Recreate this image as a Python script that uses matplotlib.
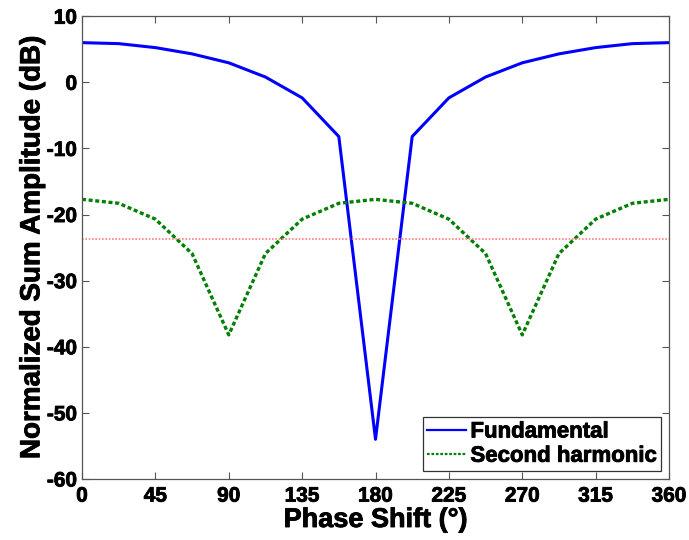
import numpy as np
import matplotlib
matplotlib.use("Agg")
import matplotlib.pyplot as plt
import matplotlib.patheffects as pe

phase = [0, 22.5, 45, 67.5, 90, 112.5, 135, 157.5, 180,
         202.5, 225, 247.5, 270, 292.5, 315, 337.5, 360]
fundamental = [6.0, 5.85, 5.25, 4.3, 2.95, 0.8, -2.35, -8.2, -54.0,
               -8.2, -2.35, 0.8, 2.95, 4.3, 5.25, 5.85, 6.0]
second = [-17.7, -18.3, -20.7, -25.9, -38.2, -25.9, -20.7, -18.3, -17.7,
          -18.3, -20.7, -25.9, -38.2, -25.9, -20.7, -18.3, -17.7]
threshold = -23.7
xticks = [0, 45, 90, 135, 180, 225, 270, 315, 360]
yticks = [-60, -50, -40, -30, -20, -10, 0, 10]

plt.rcParams['font.family'] = ['Liberation Sans', 'DejaVu Sans']
plt.rcParams['font.weight'] = 'bold'
plt.rcParams['axes.unicode_minus'] = False

heavy = [pe.withStroke(linewidth=0.6, foreground='black')]

fig = plt.figure(figsize=(6.89, 5.40), dpi=100)
ax = fig.add_axes([0.119, 0.113, 0.852, 0.857])

ax.plot(phase, fundamental, color='#0000ff', lw=2.2, label='Fundamental')
ax.plot(phase, second, color='#007f00', lw=2.4, ls=(0, (1.2, 0.8)), label='Second harmonic')
ax.axhline(threshold, color='#ff8080', lw=1.2, ls=(0, (1, 1)))

ax.set_xlim(0, 360)
ax.set_ylim(-60, 10)
ax.set_xticks(xticks)
ax.set_xticklabels([str(v) for v in xticks], fontsize=15, fontweight='bold', path_effects=heavy)
ax.set_yticks(yticks)
ax.set_yticklabels([str(v) for v in yticks], fontsize=15, fontweight='bold', path_effects=heavy)
ax.tick_params(direction='in', top=True, right=True, length=5,
               color='#555555', width=0.8)
ax.tick_params(axis='x', pad=5.5)
ax.tick_params(axis='y', pad=3.5)
for s in ax.spines.values():
    s.set_color('#555555')
    s.set_linewidth(0.9)

ax.set_xlabel('Phase Shift (°)', fontsize=19.5, fontweight='bold', labelpad=1, path_effects=heavy)
ax.set_ylabel('Normalized Sum Amplitude (dB)', fontsize=20, fontweight='bold', labelpad=1, path_effects=heavy)

leg = ax.legend(loc='lower right', prop={'size': 16, 'weight': 'bold'}, fancybox=False,
                framealpha=1, edgecolor='#333333', handlelength=1.75, handletextpad=0.2,
                borderpad=0.2, labelspacing=0.15, borderaxespad=0.35)
leg.get_frame().set_linewidth(0.9)
for t in leg.get_texts():
    t.set_path_effects(heavy)
for h in leg.get_lines():
    h.set_linewidth(1.6)

fig.savefig('out.png', dpi=100)
